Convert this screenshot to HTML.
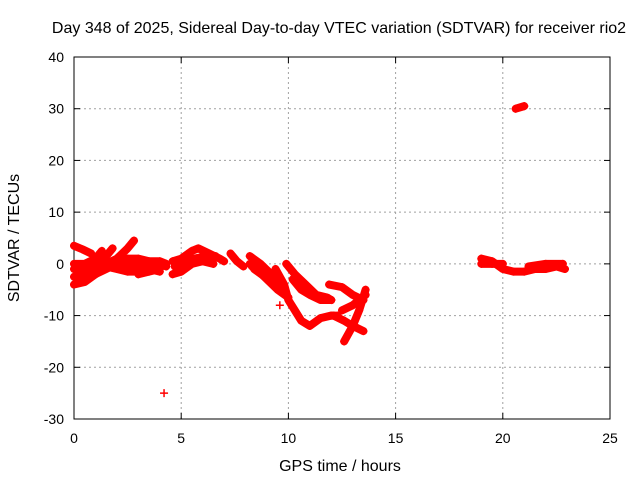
<!DOCTYPE html>
<html><head><meta charset="utf-8"><style>
body{margin:0;background:#fff}
svg text{font-family:"Liberation Sans",sans-serif;font-size:14px;fill:#000}
svg text.big{font-size:16px}
</style></head><body>
<svg id="chart" width="640" height="480">
<text class="big" x="339" y="33" text-anchor="middle">Day 348 of 2025, Sidereal Day-to-day VTEC variation (SDTVAR) for receiver rio2</text>
<g id="grid"></g>
<g id="axes"></g>
<g id="marks"></g>
<text class="big" x="340" y="471" text-anchor="middle">GPS time / hours</text>
<text class="big" transform="translate(19,238) rotate(-90)" text-anchor="middle">SDTVAR / TECUs</text>
</svg>
<script>
const xTicks=[0,5,10,15,20,25];
const yTicks=[-30,-20,-10,0,10,20,30,40];
const trackA=[[0,3.5],[0.4,2.8],[0.8,2]];
const trackB=[[0,-4],[0.5,-3.5],[1,-2],[1.5,-1],[2,0],[2.5,0],[3,-0.5],[3.5,-1],[4,-1]];
const trackB2=[[0,-2.5],[0.5,-2],[1,-1.5],[1.5,-0.5],[2,-1],[2.5,-1.5],[3,-1.5],[3.5,-1],[4,-1.5]];
const trackC=[[0,-1],[0.5,-1],[1,0],[1.5,1.5],[1.8,3]];
const trackC2=[[0,0],[0.5,0],[1,1],[1.3,2.5]];
const trackD=[[1,-2],[1.5,0],[2,1],[2.5,3],[2.8,4.5]];
const trackE=[[2,0.5],[2.5,0.5],[3,0.5],[3.5,0],[4,0],[4.3,-0.5]];
const trackE2=[[2.5,1],[3,1],[3.5,0.5],[4,0.5],[4.3,0]];
const trackF=[[3,-2],[3.5,-1.5],[4,-1]];
const trackG=[[4.6,0.5],[5,1],[5.5,2.5],[5.8,3],[6.3,2],[6.8,1],[7,0.5]];
const trackG2=[[4.6,-2],[5,-1.5],[5.5,0],[6,0.5],[6.5,0]];
const trackG3=[[4.7,-0.5],[5.2,0],[5.6,1],[6.2,1.5],[6.6,1.5]];
const trackH=[[7.3,2],[7.6,0.5],[7.9,-0.5]];
const trackI=[[8.2,0],[8.5,-1],[9,-3],[9.5,-5],[10,-6.5]];
const trackI2=[[8.2,1.5],[8.7,0],[9.2,-2],[9.6,-3]];
const trackI3=[[8.3,-0.5],[8.8,-2],[9.2,-3.5],[9.6,-4.5]];
const trackJ=[[8.4,-1],[8.9,-2.5],[9.4,-4],[9.8,-5]];
const trackK=[[9.4,-1],[9.8,-4],[10,-7],[10.3,-9],[10.6,-11],[11,-12],[11.5,-10.5],[12,-10],[12.3,-10]];
const trackL=[[9.9,0],[10.3,-2],[10.8,-4],[11.3,-6],[11.8,-6.5],[12,-7]];
const trackM=[[10.2,-3],[10.6,-5],[11,-6],[11.5,-7],[12,-7]];
const trackN=[[11.9,-4],[12.5,-4.5],[13,-6],[13.5,-7]];
const trackO=[[12.1,-10],[12.6,-11],[13,-12],[13.5,-13]];
const trackP=[[12.6,-15],[13,-12],[13.3,-9],[13.6,-5]];
const trackQ=[[12.5,-9],[13,-8],[13.6,-6]];
const trackR=[[19,1],[19.5,0.5],[20,-1],[20.5,-1.5],[21,-1.5],[21.5,-1],[22,-1],[22.5,-0.5],[22.9,-1]];
const trackR2=[[19,0],[19.5,0],[20,0]];
const trackR3=[[21.2,-0.5],[22,0],[22.8,0]];
const trackS=[[20.6,30],[21,30.5]];
const outliers=[[4.2,-25],[9.6,-8]];
const tracks=[trackA,trackB,trackB2,trackC,trackC2,trackD,trackE,trackE2,trackF,trackG,trackG2,trackG3,trackH,trackI,trackI2,trackI3,trackJ,trackK,trackL,trackM,trackN,trackO,trackP,trackQ,trackR,trackR2,trackR3,trackS];

const X0=74,X1=610,Y0=419,Y1=57;
const xs=t=>X0+(t-0)/25*(X1-X0);
const ys=v=>Y0-(v+30)/70*(Y0-Y1);
const NS='http://www.w3.org/2000/svg';
function mk(tag,attrs,parent){const e=document.createElementNS(NS,tag);for(const k in attrs)e.setAttribute(k,attrs[k]);parent.appendChild(e);return e;}
const grid=document.getElementById('grid'),axes=document.getElementById('axes'),marks=document.getElementById('marks');
xTicks.forEach(t=>{
  if(t>0&&t<25){const l=mk('line',{x1:xs(t),x2:xs(t),y1:Y1,y2:Y0,stroke:'#a0a0a0','stroke-dasharray':'2,3'},grid);
  }
  mk('line',{x1:xs(t),x2:xs(t),y1:Y0,y2:Y0-6,stroke:'#000'},axes);
  mk('line',{x1:xs(t),x2:xs(t),y1:Y1,y2:Y1+6,stroke:'#000'},axes);
  const tx=mk('text',{x:xs(t),y:Y0+24,'text-anchor':'middle'},axes);tx.textContent=t;
  
});
yTicks.forEach(v=>{
  if(v>-30&&v<40){const l=mk('line',{x1:X0,x2:X1,y1:ys(v),y2:ys(v),stroke:'#a0a0a0','stroke-dasharray':'2,3'},grid);
  }
  mk('line',{x1:X0,x2:X0+6,y1:ys(v),y2:ys(v),stroke:'#000'},axes);
  mk('line',{x1:X1,x2:X1-6,y1:ys(v),y2:ys(v),stroke:'#000'},axes);
  const tx=mk('text',{x:X0-10,y:ys(v)+5,'text-anchor':'end'},axes);tx.textContent=v;
  
});
mk('rect',{x:X0,y:Y1,width:X1-X0,height:Y0-Y1,fill:'none',stroke:'#000'},axes);
function plus(t,v){const x=xs(t),y=ys(v);
  mk('path',{d:`M${x-4},${y}h8M${x},${y-4}v8`,stroke:'#f00','stroke-width':1.5},marks);}
tracks.forEach(tr=>{
  const pl=mk('polyline',{points:tr.map(p=>xs(p[0])+','+ys(p[1])).join(' '),fill:'none',stroke:'#f00','stroke-width':8,'stroke-linejoin':'round','stroke-linecap':'round'},marks);
  
  
  tr.forEach(p=>plus(p[0],p[1]));
});
outliers.forEach(p=>plus(p[0],p[1]));
</script>
</body></html>
